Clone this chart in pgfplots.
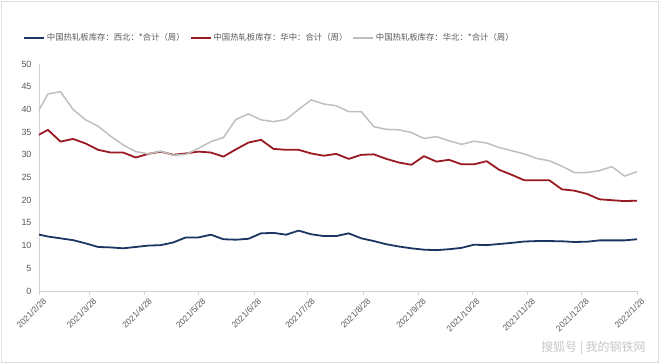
\documentclass[border=0pt]{standalone}
\usepackage{fontspec}
\setmainfont{Liberation Sans}
\newfontfamily\cjk{Noto Sans CJK SC}
\usepackage{pgfplots}
\usepackage{pgfplotstable}
\pgfplotsset{compat=1.18}
\definecolor{cblue}{HTML}{1B3663}
\definecolor{cred}{HTML}{9A1A22}
\definecolor{cgray}{HTML}{BFBFBF}
\definecolor{ctxt}{HTML}{595959}
\pgfplotstableread{
d b r g
-2 12.6 34.0 38.5
5 12.0 35.5 43.4
12 11.6 32.9 43.9
19 11.2 33.5 40.0
26 10.5 32.5 37.7
33 9.7 31.1 36.3
40 9.6 30.5 34.1
47 9.4 30.5 32.2
54 9.7 29.4 30.7
61 10.0 30.2 30.2
68 10.1 30.7 30.8
75 10.7 30.0 29.9
82 11.8 30.3 30.1
89 11.8 30.7 31.4
96 12.4 30.5 32.9
103 11.4 29.6 33.8
110 11.3 31.2 37.8
117 11.5 32.7 39.0
124 12.7 33.3 37.7
131 12.8 31.3 37.3
138 12.4 31.1 37.8
145 13.3 31.1 40.0
152 12.5 30.3 42.1
159 12.1 29.8 41.2
166 12.1 30.2 40.8
173 12.7 29.1 39.5
180 11.6 30.0 39.5
187 11.0 30.1 36.2
194 10.3 29.1 35.6
201 9.8 28.3 35.5
208 9.4 27.8 34.9
215 9.1 29.7 33.6
222 9.0 28.5 34.0
229 9.2 28.9 33.1
236 9.5 27.9 32.3
243 10.2 27.9 33.0
250 10.1 28.6 32.6
257 10.35 26.7 31.6
264 10.6 25.6 30.9
271 10.9 24.4 30.2
278 11.0 24.4 29.2
285 11.0 24.4 28.7
292 10.95 22.4 27.5
299 10.8 22.1 26.1
306 10.85 21.4 26.1
313 11.15 20.2 26.5
320 11.15 20.0 27.4
327 11.15 19.8 25.3
334 11.4 19.9 26.3
}\datatable
\begin{document}
\begin{tikzpicture}
\useasboundingbox (-39bp,-73bp) rectangle (621bp,291bp);
\draw[gray!25, line width=0.8bp] (-38bp,-71bp) rectangle (619bp,290bp);
\begin{axis}[
  scale only axis,
  width=598bp, height=227bp,
  at={(0,0)}, anchor=south west,
  xmin=0, xmax=334, ymin=0, ymax=50,
  axis lines*=left,
  axis line style={draw=gray!35, line width=0.8bp},
  xtick={0,28,59,89,120,150,181,212,242,273,303,334},
  xticklabels={2021/2/28,2021/3/28,2021/4/28,2021/5/28,2021/6/28,2021/7/28,2021/8/28,2021/9/28,2021/10/28,2021/11/28,2021/12/28,2022/1/28},
  ytick={0,5,...,50},
  x tick label style={rotate=45, anchor=north east, font=\fontsize{8.5}{9}\selectfont, text=ctxt, xshift=4bp, yshift=-1bp},
  y tick label style={font=\fontsize{9}{10}\selectfont, text=ctxt},
  /pgf/number format/assume math mode=true,
  tick align=outside,
  major tick length=4bp,
  xtick style={draw=gray!35, line width=0.6bp},
  ytick style={draw=none},
  clip=true,
  legend columns=3,
  legend style={draw=none, fill=none, at={(234bp,253bp)}, anchor=center,
    font=\cjk\fontsize{8.4}{9}\selectfont, text=ctxt,
    /tikz/every even column/.append style={column sep=3bp},
    inner sep=0pt},
  legend image code/.code={\draw[#1] (0bp,0bp) -- (20bp,0bp);},
]
\addplot[cblue, line width=1.8bp, line join=round] table[x=d, y=b] {\datatable};
\addlegendentry{中国热轧板库存：西北：*合计（周）}
\addplot[cred, line width=1.8bp, line join=round] table[x=d, y=r] {\datatable};
\addlegendentry{中国热轧板库存：华中：合计（周）}
\addplot[cgray, line width=1.5bp, line join=round] table[x=d, y=g] {\datatable};
\addlegendentry{中国热轧板库存：华北：*合计（周）}
\end{axis}
\node[anchor=east, text=gray!45, font=\cjk\fontsize{12}{13}\selectfont] at (610bp,-57bp) {搜狐号 | 我的钢铁网};
\end{tikzpicture}
\end{document}
